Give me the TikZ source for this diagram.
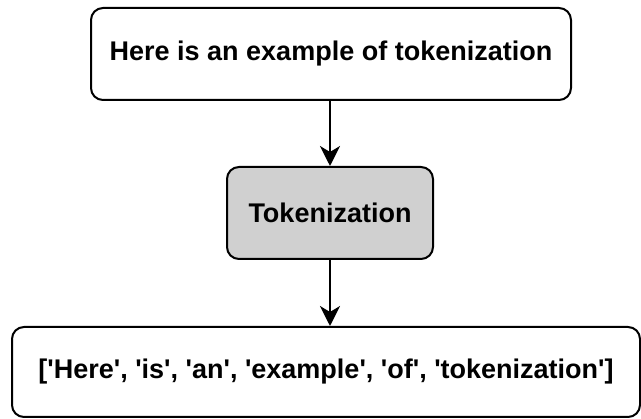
\documentclass[tikz,border=0pt]{standalone}
\usepackage{fontspec}
\setmainfont{Liberation Sans}[Ligatures=TeXOff]
\usetikzlibrary{arrows.meta,positioning}
\definecolor{stepgray}{HTML}{D0D0D0}
\tikzset{
  flowbox/.style={
    rounded corners=12pt,
    draw=black,
    line width=2pt,
    fill=white,
    align=center,
    font=\fontsize{27}{32}\selectfont\bfseries,
    inner sep=0pt
  },
  process/.style={fill=stepgray},
  flowedge/.style={line width=1.8pt, draw=black, -{Stealth[length=20pt, width=20pt, inset=6pt]}}
}
\begin{document}
\begin{tikzpicture}[x=1pt,y=-1pt]
\path[use as bounding box] (0,0) rectangle (641,419);

\node[flowbox, minimum width=480pt, minimum height=92pt] (sentence) at (331,54) {Here is an example of tokenization};
\node[flowbox, process, minimum width=206pt, minimum height=92pt] (tokenizer) at (330,213) {Tokenization};
\node[flowbox, minimum width=628pt, minimum height=90pt] (tokens) at (326,372) {['Here', 'is', 'an', 'example', 'of', 'tokenization']};

\draw[flowedge] (sentence.south -| tokenizer) -- (tokenizer.north);
\draw[flowedge] (tokenizer.south) -- (tokens.north -| tokenizer);

\end{tikzpicture}
\end{document}
